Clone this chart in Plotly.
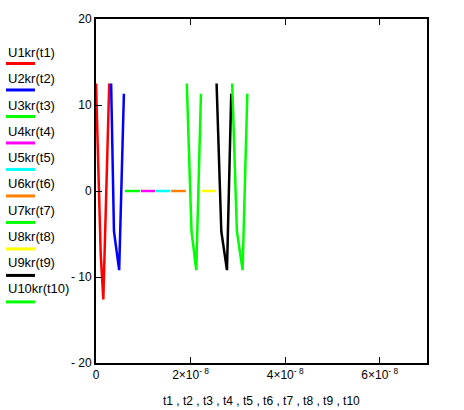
import plotly.graph_objects as go

# x in units of 1e-8
names = ["U1kr(t1)", "U2kr(t2)", "U3kr(t3)", "U4kr(t4)", "U5kr(t5)",
         "U6kr(t6)", "U7kr(t7)", "U8kr(t8)", "U9kr(t9)", "U10kr(t10)"]
colors = ["#ff0000", "#0000ff", "#00ff00", "#ff00ff", "#00ffff",
          "#ff8000", "#00ff00", "#ffff00", "#000000", "#00ff00"]

t1 = [0.0, 0.10, 0.155, 0.28]
u1 = [12.5, -7.4, -12.6, 12.5]
t2 = [0.32, 0.38, 0.49, 0.59]
u2 = [12.5, -4.7, -9.2, 11.3]
t3 = [0.61, 0.93]
u3 = [0, 0]
t4 = [0.95, 1.25]
u4 = [0, 0]
t5 = [1.27, 1.57]
u5 = [0, 0]
t6 = [1.59, 1.90]
u6 = [0, 0]
t7 = [1.92, 2.02, 2.12, 2.22]
u7 = [12.5, -4.7, -9.2, 11.3]
t8 = [2.24, 2.53]
u8 = [0, 0]
t9 = [2.55, 2.65, 2.77, 2.86]
u9 = [12.5, -4.7, -9.2, 11.3]
t10 = [2.88, 2.98, 3.10, 3.20]
u10 = [12.5, -4.7, -9.2, 11.3]

xs = [t1, t2, t3, t4, t5, t6, t7, t8, t9, t10]
ys = [u1, u2, u3, u4, u5, u6, u7, u8, u9, u10]

x_tickvals = [0, 2, 4, 6]
x_ticktext = ["0", "2×10<sup>- 8</sup>", "4×10<sup>- 8</sup>", "6×10<sup>- 8</sup>"]
y_tickvals = [-20, -10, 0, 10, 20]
y_ticktext = ["- 20", "- 10", "0", "10", "20"]
x_title = "t1 , t2 , t3 , t4 , t5 , t6 , t7 , t8 , t9 , t10"

W, H = 464, 410
L, R, T, B = 96, 427, 15, 363

fig = go.Figure()
for x, y, c, n in zip(xs, ys, colors, names):
    fig.add_trace(go.Scatter(x=x, y=y, mode="lines", name=n,
                             line=dict(color=c, width=2.5), showlegend=False))

def px(p):
    return (p - L) / (R - L)

def py(p):
    return (B - p) / (B - T)

annotations = []
shapes = []
for i, (n, c) in enumerate(zip(names, colors)):
    ty = 49 + 26.55 * i
    ly = 60 + 26.8 * i
    annotations.append(dict(text=n, xref="paper", yref="paper", x=px(6), y=py(ty),
                            xanchor="left", yanchor="middle", showarrow=False,
                            font=dict(size=13, color="black", family="Liberation Sans")))
    shapes.append(dict(type="line", xref="paper", yref="paper",
                       x0=px(6), x1=px(35), y0=py(ly), y1=py(ly),
                       line=dict(color=c, width=3)))

annotations.append(dict(text=x_title, xref="paper", yref="paper", x=0.5, y=py(401),
                        xanchor="center", yanchor="middle", showarrow=False,
                        font=dict(size=12, color="black", family="Liberation Sans")))

fig.update_layout(
    width=W, height=H,
    margin=dict(l=L, r=W - R, t=T, b=H - B, pad=0),
    paper_bgcolor="white", plot_bgcolor="white",
    annotations=annotations, shapes=shapes,
    font=dict(family="Liberation Sans", size=12, color="black"),
    xaxis=dict(range=[0, 7], tickvals=x_tickvals, ticktext=x_ticktext,
               showgrid=False, zeroline=False, showline=True, linecolor="black",
               linewidth=2, mirror="ticks", ticks="inside", ticklen=6,
               tickcolor="black", tickwidth=1),
    yaxis=dict(range=[-20, 20], tickvals=y_tickvals, ticktext=y_ticktext,
               showgrid=False, zeroline=False, showline=True, linecolor="black",
               linewidth=2, mirror=True, ticks="inside", ticklen=6,
               tickcolor="black", tickwidth=1),
)

fig.write_html("out.html", config={"displayModeBar": False},
               post_script="document.body.style.margin='0';document.body.style.padding='0';")
